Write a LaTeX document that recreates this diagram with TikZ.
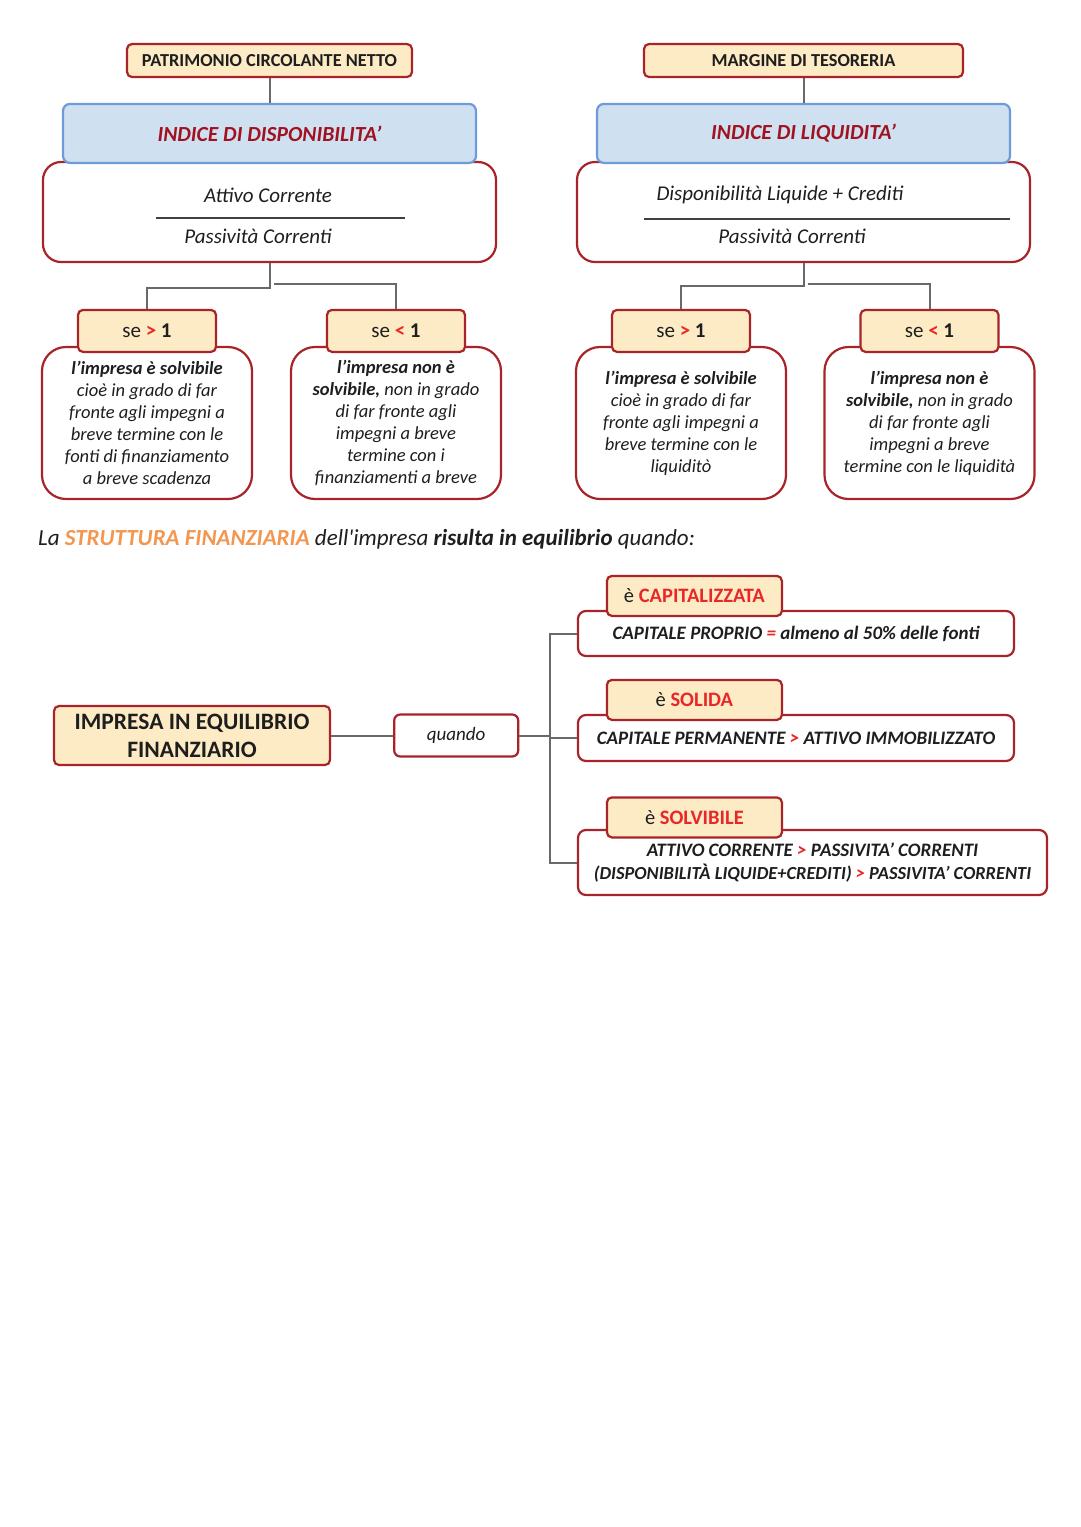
\documentclass[tikz,border=0pt]{standalone}
\usepackage{fontspec}
\setmainfont{Carlito}
\usetikzlibrary{positioning,calc}
\definecolor{boxred}{RGB}{168,36,40}
\definecolor{boxyellow}{RGB}{253,235,197}
\definecolor{idxblue}{RGB}{207,224,241}
\definecolor{idxborder}{RGB}{110,156,218}
\definecolor{idxtext}{RGB}{160,18,32}
\definecolor{signred}{RGB}{232,40,40}
\definecolor{titleorange}{RGB}{242,150,80}
\definecolor{linkgray}{RGB}{105,105,105}
\definecolor{ink}{RGB}{30,30,30}

\tikzstyle{head}=[draw=boxred, fill=boxyellow, line width=2.2pt,
  rounded corners=5pt, text=ink, inner sep=0pt]
\tikzstyle{index}=[draw=idxborder, fill=idxblue, line width=2.2pt,
  rounded corners=7pt, text=idxtext, minimum width=413pt, minimum height=59pt,
  font=\fontsize{21.5}{24}\selectfont\bfseries\itshape]
\tikzstyle{fracbox}=[draw=boxred, fill=white, line width=2.2pt,
  rounded corners=18pt, minimum width=453pt, minimum height=100pt]
\tikzstyle{ratio}=[text=ink, font=\fontsize{21}{24}\selectfont\itshape]
\tikzstyle{frac}=[draw=ink!85, line width=2.2pt]
\tikzstyle{cond}=[head, minimum width=138pt, minimum height=42pt,
  font=\fontsize{21}{24}\selectfont]
\tikzstyle{desc}=[draw=boxred, fill=white, line width=2.2pt, rounded corners=24pt,
  minimum width=210pt, minimum height=152pt, align=center, text=ink,
  font=\fontsize{18.5}{22}\selectfont\itshape]
\tikzstyle{tag}=[head, minimum width=175pt, minimum height=40pt,
  font=\fontsize{20.5}{24}\selectfont]
\tikzstyle{rule}=[draw=boxred, fill=white, line width=2.2pt, rounded corners=8pt,
  align=center, text=ink, font=\fontsize{19}{23}\selectfont\bfseries\itshape]
\tikzstyle{link}=[draw=linkgray, line width=2pt]

\begin{document}
\begin{tikzpicture}[x=1pt, y=-1pt]
  \useasboundingbox[fill=white] (0,0) rectangle (1080,1527);

  % indice di disponibilita'
  \node(pcn)[head, minimum width=285pt, minimum height=33pt,
    font=\fontsize{18.3}{20}\selectfont\bfseries] at (269.5,60.5)
    {PATRIMONIO CIRCOLANTE NETTO};
  \node(dispfrac)[fracbox] at (269.5,212) {};
  \path(dispfrac.north)+(0,-27.5) node(disp)[index]{INDICE DI DISPONIBILITA’};
  \draw[link] (pcn.south) -- (disp.north);
  \path(dispfrac.center)+(-1.5,-17) node(dispnum)[ratio]{Attivo Corrente};
  \path(dispfrac.center)+(-11.5,24) node(dispden)[ratio]{Passività Correnti};
  \draw[frac] (dispfrac.center) ++(-113.5,6) -- ++(249,0);

  \node(solvA)[desc] at (147,423) {
    \textbf{l’impresa è solvibile}\\
    cioè in grado di far\\
    fronte agli impegni a\\
    breve termine con le\\
    fonti di finanziamento\\
    a breve scadenza
  };
  \path(solvA.north)+(0,-15) node(gtA)[cond]{se \textcolor{signred}{\textbf{>}} \textbf{1}};

  \node(nosolvA)[desc] at (396,423) {
    \textbf{l’impresa non è}\\
    \textbf{solvibile,} non in grado\\
    di far fronte agli\\
    impegni a breve\\
    termine con i\\
    finanziamenti a breve
  };
  \path(nosolvA.north)+(0,-15) node(ltA)[cond]{se \textcolor{signred}{\textbf{<}} \textbf{1}};

  \draw[link] (dispfrac.south) -- ++(0,25) -| (gtA.north);
  \draw[link] (dispfrac.south) ++(4,21) -| (ltA.north);

  % indice di liquidita'
  \node(mt)[head, minimum width=319pt, minimum height=33pt,
    font=\fontsize{18.3}{20}\selectfont\bfseries] at (803.5,60.5)
    {MARGINE DI TESORERIA};
  \node(liqfrac)[fracbox] at (803.5,212) {};
  \path(liqfrac.north)+(0,-27.5) node(liq)[index]{INDICE DI LIQUIDITA’};
  \draw[link] (mt.south) -- (liq.north);
  \path(liqfrac.center)+(-23.5,-17) node(liqnum)[ratio]{Disponibilità Liquide + Crediti};
  \path(liqfrac.center)+(-11.5,24) node(liqden)[ratio]{Passività Correnti};
  \draw[frac] (liqfrac.center) ++(-159.5,7) -- ++(366,0);

  \node(solvB)[desc] at (681,423) {
    \textbf{l’impresa è solvibile}\\
    cioè in grado di far\\
    fronte agli impegni a\\
    breve termine con le\\
    liquiditò
  };
  \path(solvB.north)+(0,-15) node(gtB)[cond]{se \textcolor{signred}{\textbf{>}} \textbf{1}};

  \node(nosolvB)[desc] at (929.5,423) {
    \textbf{l’impresa non è}\\
    \textbf{solvibile,} non in grado\\
    di far fronte agli\\
    impegni a breve\\
    termine con le liquidità
  };
  \path(nosolvB.north)+(0,-15) node(ltB)[cond]{se \textcolor{signred}{\textbf{<}} \textbf{1}};

  \draw[link] (liqfrac.south) -- ++(0,23) -| (gtB.north);
  \draw[link] (liqfrac.south) ++(4,21) -| (ltB.north);

  % struttura finanziaria
  \node(title)[anchor=west, inner sep=0pt, text=ink,
    font=\fontsize{23}{26}\selectfont\itshape] at (38,539)
    {La \textcolor{titleorange}{\textbf{STRUTTURA FINANZIARIA}}
     dell\textquotesingle impresa \textbf{risulta in equilibrio} quando:};

  \node(ief)[head, minimum width=276pt, minimum height=59pt, align=center,
    font=\fontsize{23.5}{28}\selectfont\bfseries] at (192,735.5)
    {IMPRESA IN EQUILIBRIO\\FINANZIARIO};
  \path(ief.east)+(62,0) node(quando)[anchor=west, draw=boxred, fill=white,
    line width=2.2pt, rounded corners=6pt, text=ink, minimum width=124pt,
    minimum height=42pt, font=\fontsize{19}{22}\selectfont\itshape]{quando};
  \draw[link] (ief.east) -- (quando.west);
  \path(quando.east)+(31,0) coordinate(hub);

  \node(capbox)[rule, minimum width=436pt, minimum height=45pt] at (796,633.5)
    {CAPITALE PROPRIO \textcolor{signred}{=} almeno al 50\% delle fonti};
  \path(capbox.north west)+(117.5,-14) node(cap)[tag]
    {è \textcolor{signred}{\textbf{CAPITALIZZATA}}};

  \node(solbox)[rule, minimum width=436pt, minimum height=46pt] at (796,738)
    {CAPITALE PERMANENTE \textcolor{signred}{>} ATTIVO IMMOBILIZZATO};
  \path(solbox.north west)+(117.5,-14) node(sol)[tag]
    {è \textcolor{signred}{\textbf{SOLIDA}}};

  \node(solvbox)[rule, minimum width=469pt, minimum height=65pt] at (812.5,862.5)
    {ATTIVO CORRENTE \textcolor{signred}{>} PASSIVITA’ CORRENTI\\
     {\fontsize{18.4}{23}\selectfont(DISPONIBILITÀ LIQUIDE+CREDITI)
     \textcolor{signred}{>} PASSIVITA’ CORRENTI}};
  \path(solvbox.north west)+(117.5,-11.5) node(solv)[tag]
    {è \textcolor{signred}{\textbf{SOLVIBILE}}};

  \draw[link] (quando.east) -- (hub);
  \draw[link] (hub) |- (capbox.west);
  \draw[link] (hub) |- (solbox.west);
  \draw[link] (hub) |- (solvbox.west);
\end{tikzpicture}
\end{document}
